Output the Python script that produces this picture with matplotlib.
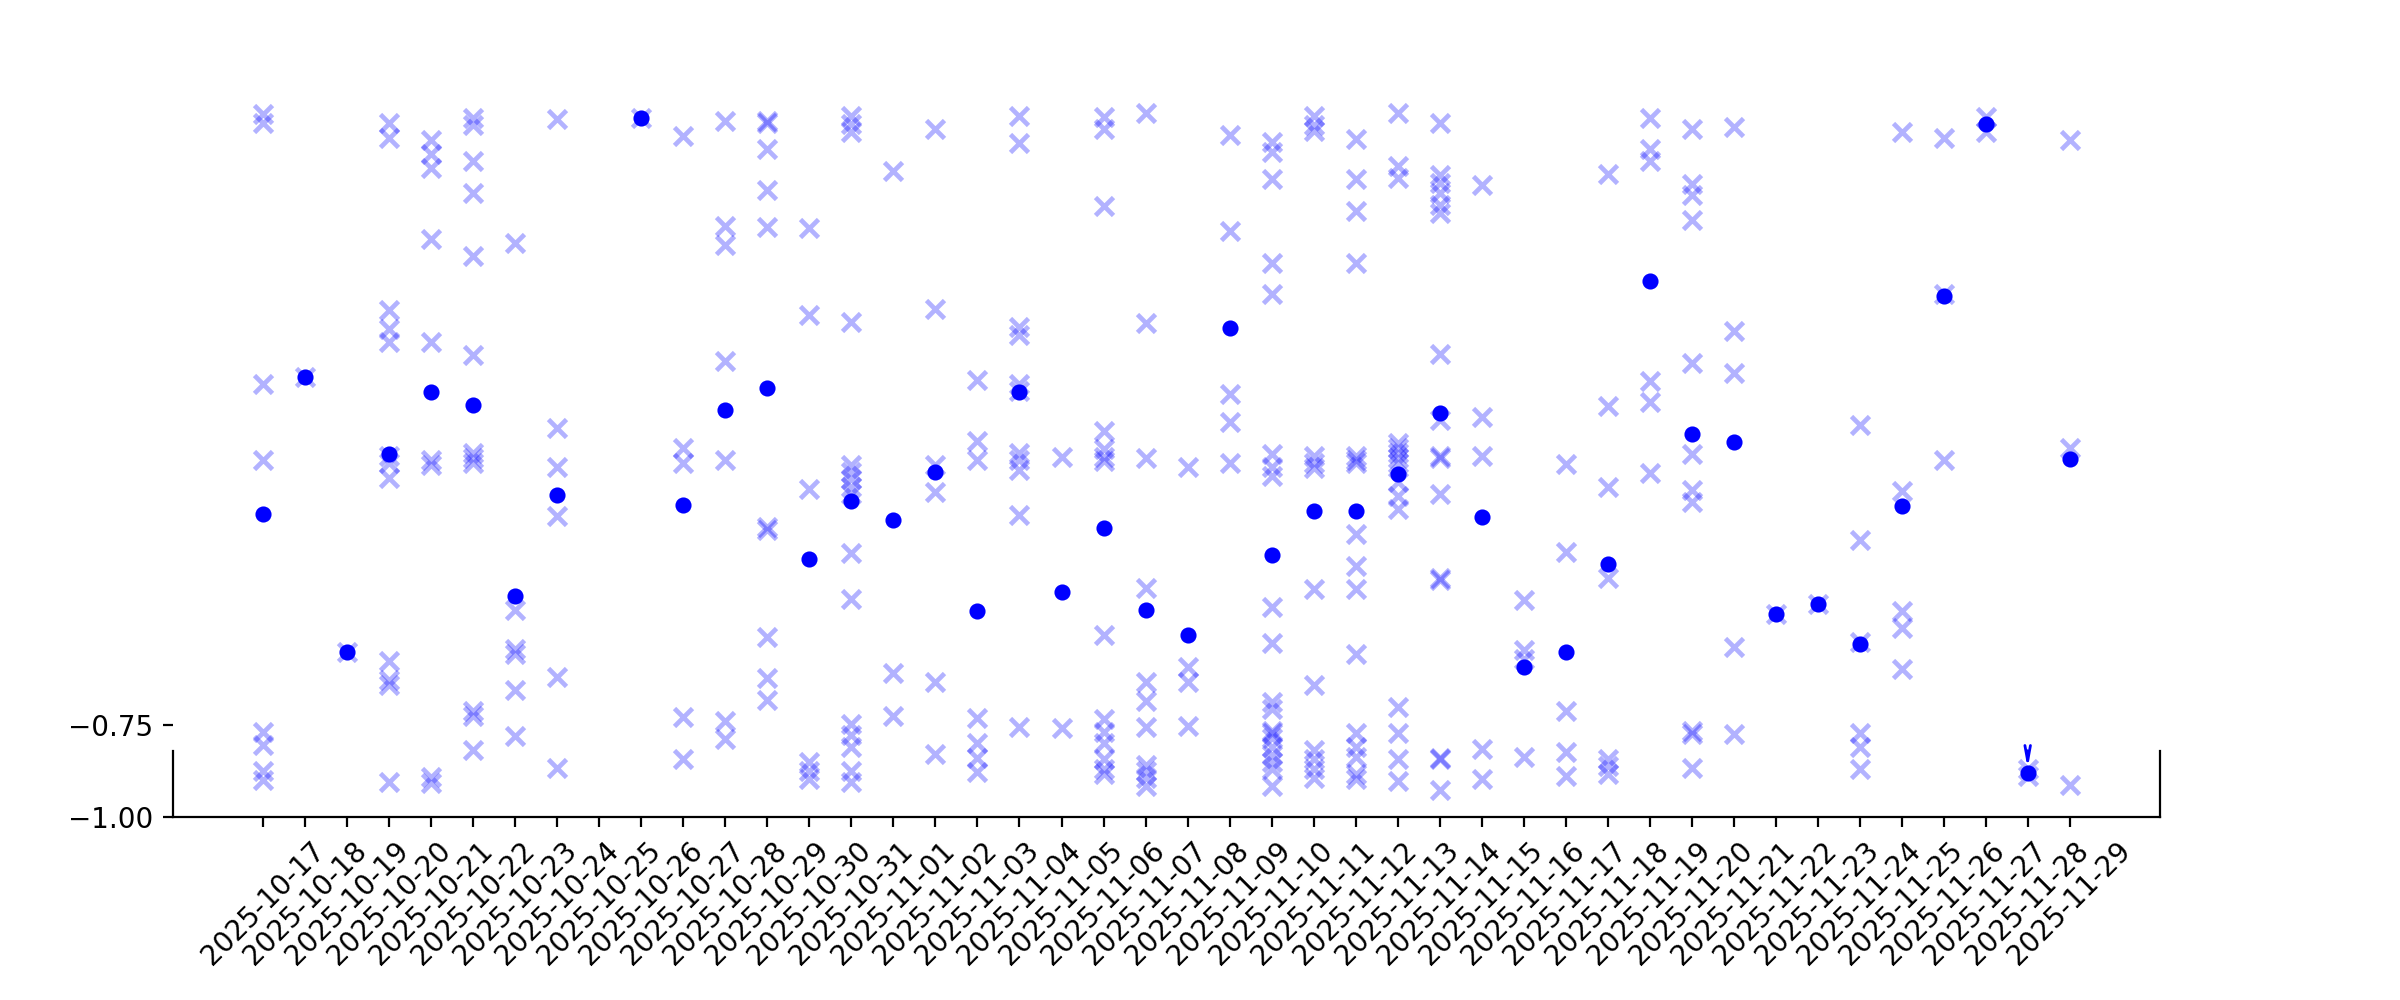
import matplotlib
matplotlib.use('Agg')
import matplotlib.pyplot as plt
import numpy as np
import pandas as pd

# dates on the x axis (one tick per day)
dates = pd.date_range('2025-10-17', '2025-11-29').strftime('%Y-%m-%d').tolist()

# individual samples per day (x markers)
samples = [
    [0.915, 0.892, 0.179, -0.026, -0.768, -0.804, -0.876, -0.900],
    [0.200],
    [-0.551],
    [0.892, 0.852, 0.383, 0.331, 0.294, -0.015, -0.035, -0.076, -0.576, -0.628, -0.641, -0.905],
    [0.846, 0.807, 0.770, 0.576, 0.294, -0.028, -0.041, -0.893, -0.909],
    [0.905, 0.885, 0.787, 0.700, 0.529, 0.259, -0.009, -0.022, -0.035, -0.713, -0.726, -0.817],
    [0.565, -0.436, -0.543, -0.556, -0.654, -0.781],
    [0.902, 0.061, -0.045, -0.181, -0.619, -0.866],
    [],
    [0.905],
    [0.855, 0.005, -0.035, -0.729, -0.843],
    [0.898, 0.611, 0.559, 0.242, -0.026, -0.739, -0.789],
    [0.898, 0.892, 0.820, 0.709, 0.608, -0.211, -0.217, -0.511, -0.622, -0.683],
    [0.605, 0.367, -0.106, -0.850, -0.876, -0.898],
    [0.911, 0.889, 0.866, 0.350, -0.041, -0.061, -0.080, -0.100, -0.119, -0.280, -0.406,
     -0.746, -0.778, -0.811, -0.876, -0.906],
    [0.761, -0.609, -0.726],
    [0.876, 0.385, -0.041, -0.115, -0.632, -0.828],
    [0.191, 0.024, -0.028, -0.730, -0.798, -0.841, -0.879],
    [0.911, 0.836, 0.335, 0.314, 0.181, 0.161, -0.009, -0.028, -0.054, -0.176, -0.755],
    [-0.018, -0.759],
    [0.909, 0.876, 0.666, 0.053, 0.002, -0.018, -0.031, -0.504, -0.733, -0.768, -0.798,
     -0.843, -0.870, -0.883],
    [0.920, 0.347, -0.022, -0.376, -0.632, -0.684, -0.755, -0.858, -0.876, -0.894, -0.915],
    [-0.045, -0.593, -0.632, -0.752],
    [0.859, 0.598, 0.154, 0.076, -0.035],
    [0.839, 0.813, 0.739, 0.509, 0.426, -0.011, -0.045, -0.071, -0.429, -0.527, -0.687,
     -0.706, -0.765, -0.772, -0.785, -0.811, -0.833, -0.850, -0.870, -0.915],
    [0.911, 0.885, 0.870, -0.015, -0.035, -0.048, -0.380, -0.641, -0.817, -0.843, -0.870, -0.894],
    [0.849, 0.739, 0.653, 0.509, -0.015, -0.028, -0.035, -0.230, -0.315, -0.380, -0.556,
     -0.772, -0.811, -0.837, -0.883, -0.896],
    [0.918, 0.774, 0.742, 0.018, 0.005, -0.009, -0.022, -0.035, -0.087, -0.126, -0.162,
     -0.700, -0.772, -0.843, -0.902],
    [0.892, 0.751, 0.729, 0.702, 0.667, 0.646, 0.262, 0.083, -0.015, -0.022, -0.119,
     -0.348, -0.354, -0.841, -0.843, -0.928],
    [0.722, 0.089, -0.015, -0.815, -0.898],
    [-0.409, -0.546, -0.569, -0.837],
    [-0.039, -0.279, -0.713, -0.824, -0.889],
    [0.752, 0.119, -0.102, -0.348, -0.843, -0.863, -0.883],
    [0.905, 0.820, 0.787, 0.187, 0.132, -0.063],
    [0.875, 0.725, 0.696, 0.627, 0.237, -0.011, -0.110, -0.142, -0.767, -0.775, -0.866],
    [0.882, 0.324, 0.211, -0.537, -0.774],
    [-0.446],
    [-0.419],
    [0.067, -0.246, -0.524, -0.772, -0.811, -0.870],
    [0.868, -0.113, -0.439, -0.485, -0.596],
    [0.852, 0.425, -0.026],
    [0.907, 0.868],
    [-0.870, -0.889],
    [0.846, 0.005, -0.913],
]

# daily mean (dots), nan = no data that day
means = [-0.175, 0.199, -0.551, -0.011, 0.157, 0.122, -0.397, -0.123, np.nan, 0.905,
         -0.149, 0.109, 0.168, -0.298, -0.139, -0.191, -0.061, -0.439, 0.157, -0.387,
         -0.213, -0.435, -0.504, 0.332, -0.286, -0.165, -0.165, -0.065, 0.100, -0.182,
         -0.593, -0.551, -0.312, 0.461, 0.044, 0.022, -0.446, -0.419, -0.528, -0.152,
         0.419, 0.889, -0.880, -0.024]

yticks = [-1.0, -0.75]
spine_top = -0.82     # upper end of the trimmed side spines
arrow_day = 42        # day marked with the small arrow

fig = plt.figure(figsize=(12, 5), dpi=200)
ax = fig.add_axes([0.0721, 0.1833, 0.8279, 0.7334])

# scatter of the single samples
xs = []
ys = []
for i, vals in enumerate(samples):
    for v in vals:
        xs.append(i)
        ys.append(v)
ax.plot(xs, ys, linestyle='none', marker='x', color='blue', alpha=0.3,
        markersize=6.5, markeredgewidth=1.7, zorder=2)

# arrow pointing at the marked day
ax.annotate('', xy=(arrow_day, means[arrow_day]), xytext=(arrow_day, spine_top),
            arrowprops=dict(arrowstyle='->,head_length=0.55,head_width=0.1',
                            color='blue', lw=1.0, shrinkA=0, shrinkB=1.5),
            zorder=3)

# daily means
ax.plot(range(len(means)), means, linestyle='none', marker='o', color='blue',
        markersize=4.8, zorder=4)

ax.set_ylim(-1, 1)
ax.set_xlim(-0.05 * (len(dates) - 1), (len(dates) - 1) * 1.05)
ax.set_yticks(yticks)
ax.set_xticks(range(len(dates)))
ax.set_xticklabels(dates, rotation=45)

ax.spines['top'].set_visible(False)
ax.spines['left'].set_bounds(-1, spine_top)
ax.spines['right'].set_bounds(-1, spine_top)

fig.savefig('out.png', dpi=200)
